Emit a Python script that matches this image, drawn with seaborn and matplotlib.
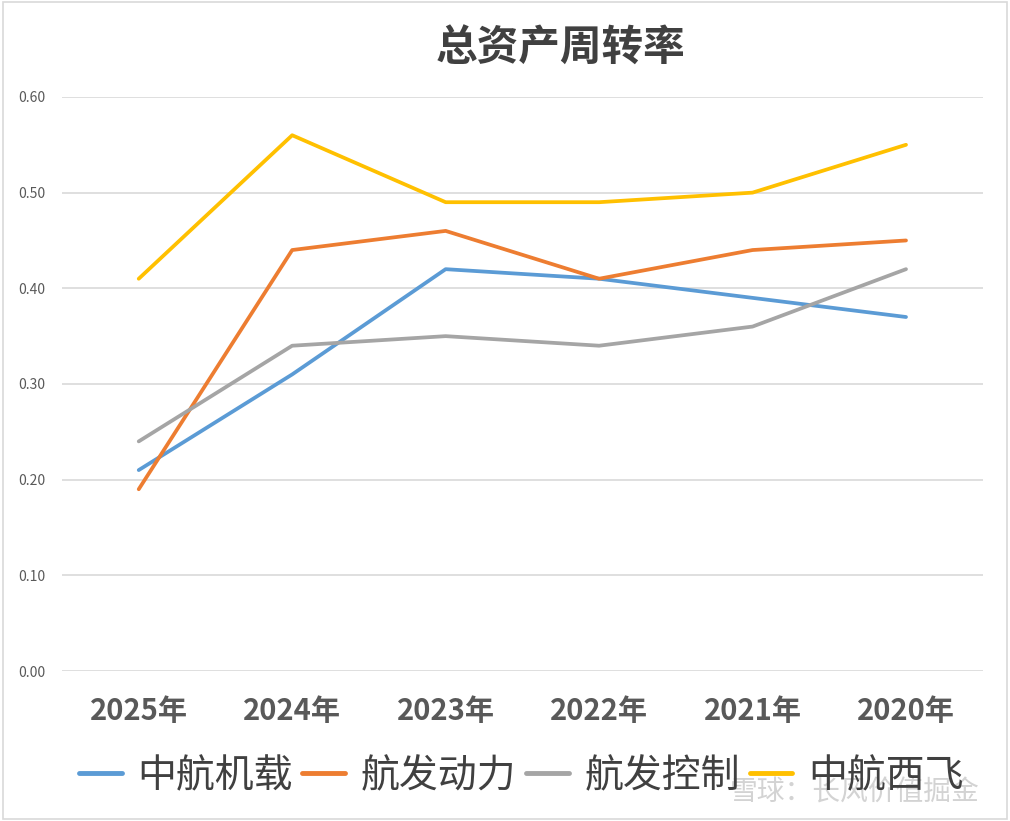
import pandas as pd
import matplotlib.pyplot as plt
import seaborn as sns
from matplotlib.patches import Rectangle

# 数据
years = ['2025年', '2024年', '2023年', '2022年', '2021年', '2020年']
zhjz = [0.21, 0.31, 0.42, 0.41, 0.39, 0.37]   # 中航机载
fdl = [0.19, 0.44, 0.46, 0.41, 0.44, 0.45]    # 航发动力
fkz = [0.24, 0.34, 0.35, 0.34, 0.36, 0.42]    # 航发控制
xf = [0.41, 0.56, 0.49, 0.49, 0.50, 0.55]     # 中航西飞
names = ['中航机载', '航发动力', '航发控制', '中航西飞']
colors = ['#5B9BD5', '#ED7D31', '#A5A5A5', '#FFC000']

df = pd.DataFrame({
    'year': years * 4,
    'value': zhjz + fdl + fkz + xf,
    'company': [n for n in names for _ in years],
})

sns.set_theme(style='white')
plt.rcParams['font.family'] = ['Noto Sans CJK SC', 'DejaVu Sans']

fig = plt.figure(figsize=(10.1, 8.21), dpi=100)
ax = fig.add_axes([0.0614, 0.1827, 0.9116, 0.6992])

sns.lineplot(data=df, x='year', y='value', hue='company', hue_order=names,
             palette=colors, linewidth=2.7, sort=False, ax=ax, legend=False)

ax.set_xlim(-0.5, 5.5)
ax.set_ylim(0, 0.6)
ax.set_yticks([0, 0.1, 0.2, 0.3, 0.4, 0.5, 0.6])
ax.set_yticklabels([f'{v:.2f}' for v in ax.get_yticks()], fontsize=10, color='#595959')
ax.yaxis.grid(True, color='#D9D9D9', linewidth=1.2)
ax.xaxis.grid(False)
for s in ax.spines.values():
    s.set_visible(False)
ax.tick_params(axis='y', length=0, pad=12)
ax.tick_params(axis='x', length=0, pad=18)
for t in ax.get_xticklabels():
    t.set_fontsize(21)
    t.set_fontweight('bold')
    t.set_color('#595959')
ax.set_xlabel('')
ax.set_ylabel('')

fig.text(0.555, 0.941, '总资产周转率', ha='center', va='center',
         fontsize=30, fontweight='bold', color='#404040')

handles = [plt.Line2D([0], [0], color=c, lw=3.5) for c in colors]
fig.legend(handles, names, loc='center', bbox_to_anchor=(0.516, 0.055), ncol=4,
           frameon=False, fontsize=28, handlelength=1.1, columnspacing=0.25,
           handletextpad=0.4, labelcolor='#404040')

fig.text(0.97, 0.035, '雪球：长风价值掘金', ha='right', va='center',
         fontsize=20, color='#C8C8C8', alpha=0.8)

fig.patches.append(Rectangle((0.003, 0.003), 0.994, 0.994, transform=fig.transFigure,
                             fill=False, edgecolor='#D9D9D9', linewidth=1.2))

fig.savefig('out.png', dpi=100)
